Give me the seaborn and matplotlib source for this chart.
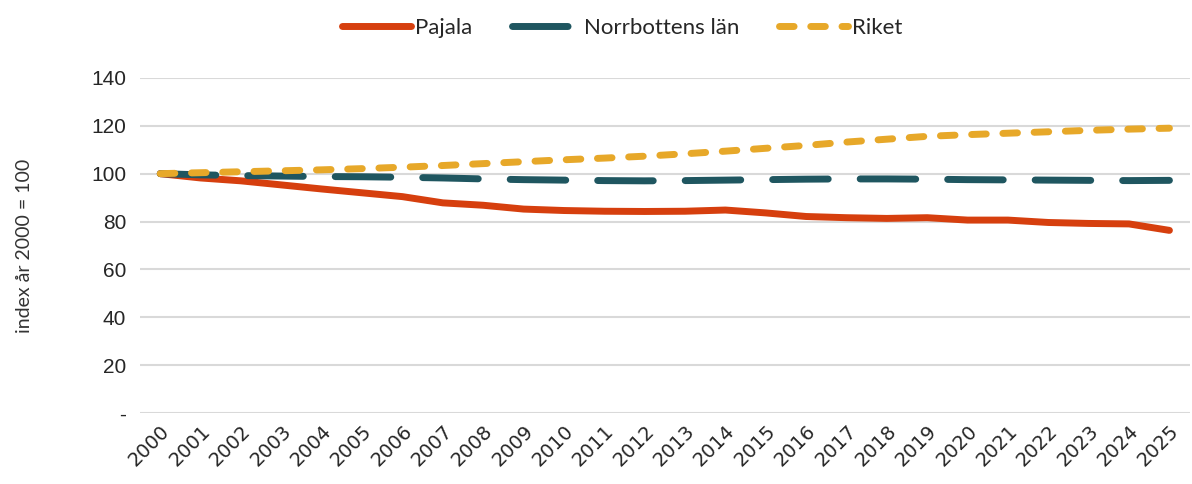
import matplotlib.pyplot as plt
import seaborn as sns
import pandas as pd

years = list(range(2000, 2026))
pajala = [100, 98.2, 97.0, 95.3, 93.6, 92.0, 90.4, 87.8, 86.8, 85.2, 84.6,
          84.3, 84.2, 84.3, 84.8, 83.6, 82.1, 81.6, 81.3, 81.6, 80.6,
          80.6, 79.6, 79.2, 79.0, 76.3]
norrbotten = [100, 99.5, 99.2, 99.0, 98.8, 98.7, 98.5, 98.2, 97.8, 97.5, 97.3,
              97.1, 97.0, 97.1, 97.3, 97.5, 97.7, 97.8, 97.8, 97.7, 97.5,
              97.4, 97.3, 97.2, 97.1, 97.2]
riket = [100, 100.4, 100.8, 101.2, 101.6, 102.1, 102.7, 103.4, 104.2, 105.0,
         105.8, 106.5, 107.3, 108.3, 109.4, 110.6, 111.8, 113.2, 114.4, 115.6,
         116.3, 116.9, 117.5, 118.1, 118.6, 119.0]
series_names = ["Pajala", "Norrbottens län", "Riket"]

df = pd.DataFrame({"year": years, series_names[0]: pajala,
                   series_names[1]: norrbotten, series_names[2]: riket})
long = df.melt(id_vars="year", var_name="serie", value_name="index")

sns.set_style("white")
plt.rcParams["lines.solid_capstyle"] = "round"
plt.rcParams["lines.dash_capstyle"] = "round"
plt.rcParams["font.family"] = ["Liberation Sans", "DejaVu Sans"]

palette = {"Pajala": "#D63F0E", "Norrbottens län": "#1F5660", "Riket": "#E7A829"}
dashes = {"Pajala": "", "Norrbottens län": (8, 4.6), "Riket": (2.1, 2.4)}

fig = plt.figure(figsize=(11.92, 4.84), dpi=100)
ax = fig.add_axes([0.1175, 0.1467, 0.8805, 0.6923])
sns.lineplot(data=long, x="year", y="index", hue="serie", style="serie",
             palette=palette, dashes=dashes, linewidth=5, ax=ax, legend=False)

ax.set_xlim(1999.5, 2025.5)
ax.set_ylim(0, 140)
ax.set_yticks(range(0, 141, 20))
ax.set_yticklabels(["-" if v == 0 else str(v) for v in range(0, 141, 20)],
                   fontsize=15)
ax.set_xticks(years)
ax.set_xticklabels([str(y) for y in years], rotation=45, ha="right",
                   rotation_mode="anchor", fontsize=14, family="DejaVu Sans")
ax.tick_params(axis="both", length=0, pad=10)
ax.tick_params(axis="x", pad=6)
ax.yaxis.grid(True, color="#D9D9D9", linewidth=1.5)
ax.set_axisbelow(True)
for s in ax.spines.values():
    s.set_visible(False)
ax.set_xlabel("")
ax.set_ylabel("index år 2000 = 100", fontsize=14,
              family=["Lato", "DejaVu Sans"], color="#333333", labelpad=42)

handles = []
for n in series_names:
    h = plt.Line2D([0], [0], color=palette[n], lw=5)
    if dashes[n]:
        h.set_dashes(dashes[n])
    handles.append(h)
fig.legend(handles, series_names, loc="upper center", bbox_to_anchor=(0.522, 1.005),
           ncol=3, frameon=False, handlelength=3.1, handletextpad=0.15,
           columnspacing=1.8, prop={"family": ["Lato", "DejaVu Sans"], "size": 16})

fig.savefig("out.png", dpi=100)
